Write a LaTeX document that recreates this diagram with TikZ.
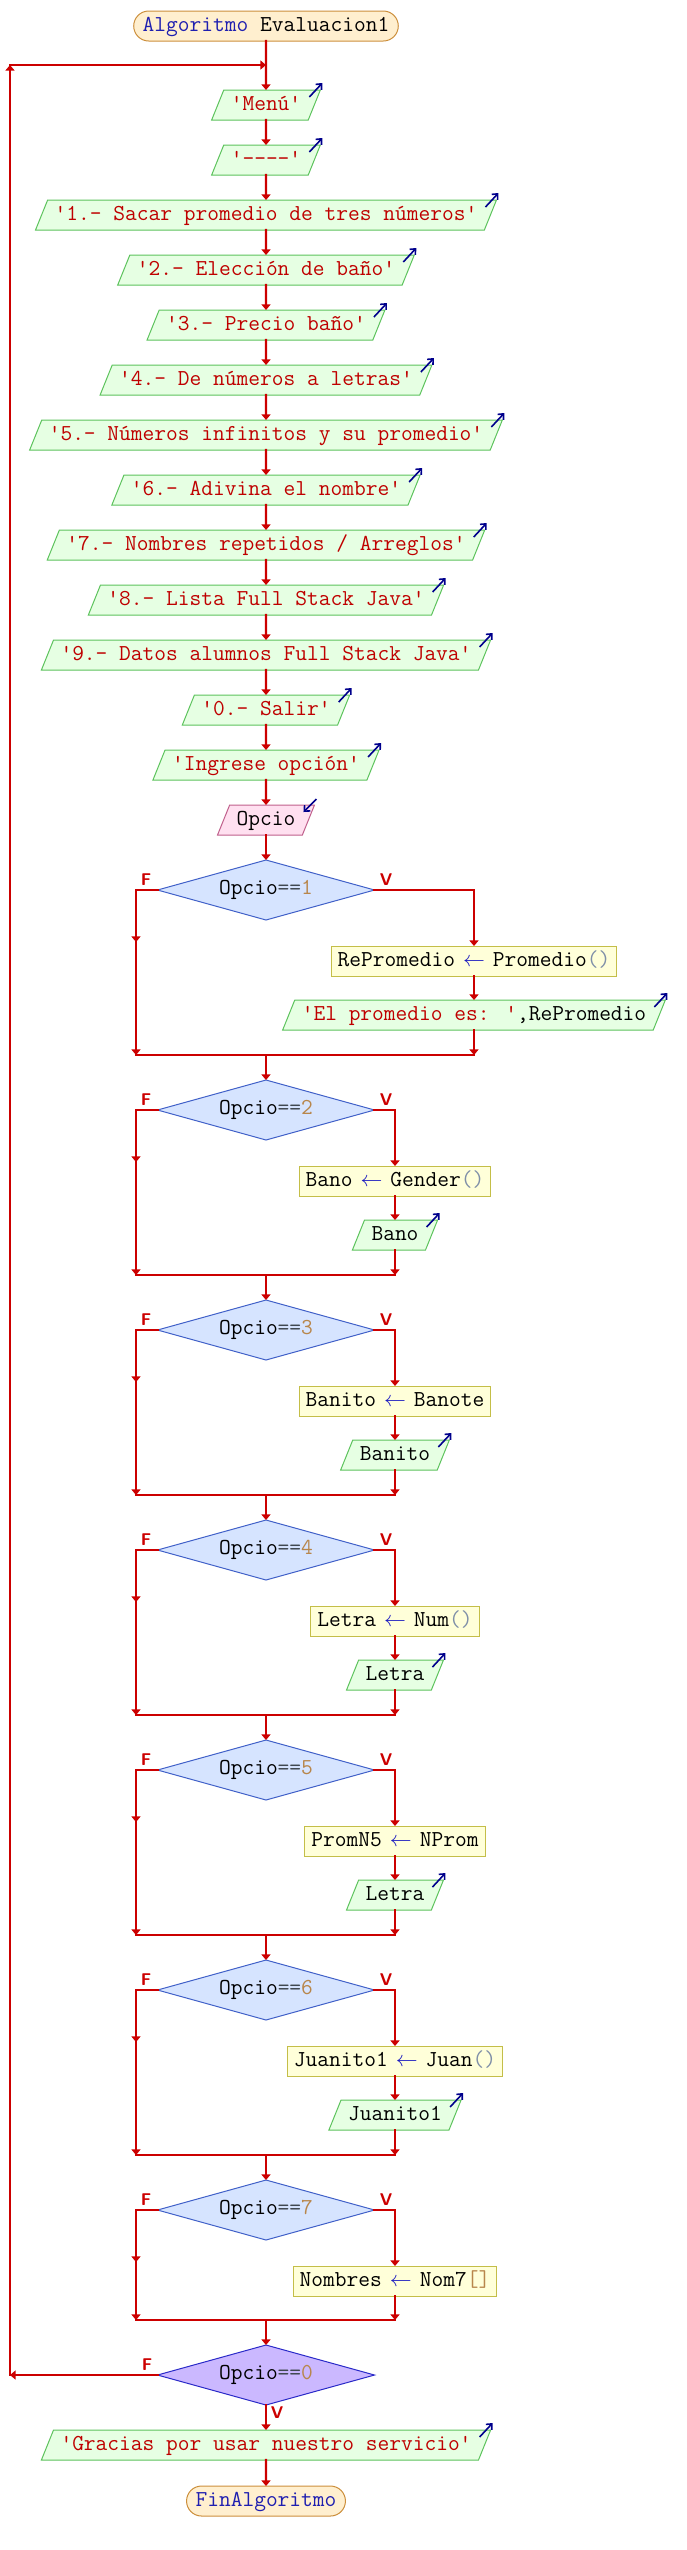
\documentclass[tikz,border=0pt]{standalone}
\usepackage{fontspec}
\usetikzlibrary{arrows.meta,shapes.geometric}

\definecolor{flujorojo}{HTML}{CC0000}
\definecolor{cadrojo}{HTML}{BF0000}
\definecolor{kwazul}{HTML}{1F1FB0}
\definecolor{asigazul}{HTML}{1A1AC0}
\definecolor{ioazul}{HTML}{00008C}
\definecolor{numcafe}{HTML}{B8864B}
\definecolor{gris}{HTML}{7F8FA8}
\definecolor{grisop}{HTML}{404850}
\definecolor{salfondo}{HTML}{E6FFE3}
\definecolor{salborde}{HTML}{5DC35D}
\definecolor{entfondo}{HTML}{FFE0F0}
\definecolor{entborde}{HTML}{C0608C}
\definecolor{procfondo}{HTML}{FFFFD9}
\definecolor{procborde}{HTML}{C4BE48}
\definecolor{decfondo}{HTML}{D6E4FF}
\definecolor{decborde}{HTML}{4060C8}
\definecolor{finfondo}{HTML}{CBB8FF}
\definecolor{finborde}{HTML}{2A2AC8}
\definecolor{termfondo}{HTML}{FFEFCF}
\definecolor{termborde}{HTML}{CC8F3C}

\newcommand\codigo{\fontsize{11.4pt}{13pt}\selectfont\ttfamily}
\newcommand\cq{\textquotesingle}
\newcommand\cadena[1]{\textcolor{cadrojo}{\cq#1\cq}}
\newcommand\asig{\hspace{4pt}\textcolor{asigazul}{$\leftarrow$}\hspace{4pt}}
\newcommand\llamada{\textcolor{gris}{()}}
\newcommand\opc[1]{Opcio\textcolor{grisop}{==}\textcolor{numcafe}{#1}}

\begin{document}
\begin{tikzpicture}[x=0.5pt, y=-0.5pt, font=\codigo,
    linea/.style={draw=flujorojo, line width=1.1pt, line cap=rect},
    flujo/.style={linea, -{Triangle[width=4.5pt,length=2.8pt]}},
    ioflecha/.style={draw=ioazul, line width=0.8pt, -{Straight Barb[length=2.2pt,width=4pt]}},
    salida/.style={trapezium, trapezium left angle=68, trapezium right angle=112,
        fill=salfondo, draw=salborde, line width=0.5pt, text height=8pt, text depth=2.5pt,
        inner xsep=3.5pt, inner ysep=2.25pt, outer sep=0pt},
    entrada/.style={salida, fill=entfondo, draw=entborde},
    proceso/.style={rectangle, fill=procfondo, draw=procborde, line width=0.5pt,
        text height=8pt, text depth=2.5pt, inner xsep=3.25pt, inner ysep=2.25pt, outer sep=0pt},
    decision/.style={diamond, aspect=3.6, minimum width=108.5pt, minimum height=30pt,
        inner sep=0pt, outer sep=0pt, fill=decfondo, draw=decborde, line width=0.5pt},
    terminal/.style={rectangle, rounded corners=7.5pt, fill=termfondo, draw=termborde,
        line width=0.5pt, text height=8pt, text depth=2.5pt, inner xsep=4.5pt, inner ysep=2.25pt, outer sep=0pt},
    rotulo/.style={font=\fontsize{8.5pt}{9pt}\selectfont\sffamily\bfseries, text=flujorojo, inner sep=0pt}]
    \useasboundingbox (0,0) rectangle (686,2550);
    % inicio
    \node[terminal] (ini) at (266,26) {\textcolor{kwazul}{Algoritmo} Evaluacion1};
    % menu
    \foreach \n/\y/\t [remember=\n as \prev (initially ini)] in {
        menu/105/{\cadena{Menú}},
        sep/160/{\cadena{-{}-{}-{}-}},
        o1/215/{\cadena{1.- Sacar promedio de tres números}},
        o2/270/{\cadena{2.- Elección de baño}},
        o3/325/{\cadena{3.- Precio baño}},
        o4/380/{\cadena{4.- De números a letras}},
        o5/435/{\cadena{5.- Números infinitos y su promedio}},
        o6/490/{\cadena{6.- Adivina el nombre}},
        o7/545/{\cadena{7.- Nombres repetidos / Arreglos}},
        o8/600/{\cadena{8.- Lista Full Stack Java}},
        o9/655/{\cadena{9.- Datos alumnos Full Stack Java}},
        o0/710/{\cadena{0.- Salir}},
        ing/765/{\cadena{Ingrese opción}}} {
        \node[salida] (\n) at (266,\y) {\t};
        \draw[flujo] (\prev) -- (\n);
        \draw[ioflecha] (\n.top right corner) ++(-11,7) -- ++(13,-14);
    }
    \node[entrada] (opcio) at (266,820) {Opcio};
    \draw[flujo] (ing) -- (opcio);
    \draw[ioflecha] (opcio.top right corner) ++(2,-6) -- ++(-13,13);
    % opciones 1 a 6
    \foreach \k/\y/\xr/\asg/\out in {
        1/890/474/{RePromedio\asig Promedio\llamada}/{\cadena{El promedio es: },RePromedio},
        2/1110/395/{Bano\asig Gender\llamada}/{Bano},
        3/1330/395/{Banito\asig Banote}/{Banito},
        4/1550/395/{Letra\asig Num\llamada}/{Letra},
        5/1770/395/{PromN5\asig NProm}/{Letra},
        6/1990/395/{Juanito1\asig Juan\llamada}/{Juanito1}} {
        \node[decision] (d\k) at (266,\y) {\opc{\k}};
        \node[rotulo] (f\k) at (146,\y-10) {F};
        \node[rotulo] (v\k) at (386,\y-10) {V};
        \node[proceso] (p\k) at (\xr,\y+71) {\asg};
        \node[salida] (s\k) at (\xr,\y+125) {\out};
        \draw[ioflecha] (s\k.top right corner) ++(-11,7) -- ++(13,-14);
        \coordinate (fl\k) at (136,\y);
        \coordinate (fr\k) at (\xr,\y);
        \coordinate (jl\k) at (136,\y+165);
        \coordinate (jr\k) at (\xr,\y+165);
        \coordinate (j\k) at (266,\y+165);
        \draw[linea] (d\k.west) -- (fl\k);
        \draw[flujo] (fl\k) -- ++(0,52);
        \draw[flujo] (fl\k) -- (jl\k);
        \draw[linea] (d\k.east) -- (fr\k);
        \draw[flujo] (fr\k) -- (p\k);
        \draw[flujo] (p\k) -- (s\k);
        \draw[flujo] (s\k) -- (jr\k);
        \draw[linea] (jl\k) -- (jr\k);
    }
    % opcion 7
    \node[decision] (d7) at (266,2210) {\opc{7}};
    \node[rotulo] (f7) at (146,2200) {F};
    \node[rotulo] (v7) at (386,2200) {V};
    \node[proceso] (p7) at (395,2281) {Nombres\asig Nom7\textcolor{numcafe}{[]}};
    \coordinate (fl7) at (136,2210);
    \coordinate (fr7) at (395,2210);
    \coordinate (jl7) at (136,2320);
    \coordinate (jr7) at (395,2320);
    \coordinate (j7) at (266,2320);
    \draw[linea] (d7.west) -- (fl7);
    \draw[flujo] (fl7) -- ++(0,52);
    \draw[flujo] (fl7) -- (jl7);
    \draw[linea] (d7.east) -- (fr7);
    \draw[flujo] (fr7) -- (p7);
    \draw[flujo] (p7) -- (jr7);
    \draw[linea] (jl7) -- (jr7);
    \draw[flujo] (opcio) -- (d1);
    \foreach \k [evaluate=\k as \nk using int(\k+1)] in {1,...,6} {
        \draw[flujo] (j\k) -- (d\nk);
    }
    % salir
    \node[decision, fill=finfondo, draw=finborde] (d0) at (266,2375) {\opc{0}};
    \draw[flujo] (j7) -- (d0);
    \node[rotulo] (f0) at (147,2365) {F};
    \node[rotulo] (v0) at (277,2413) {V};
    % bucle
    \coordinate (lazoA) at (10,2375);
    \coordinate (lazoB) at (10,65);
    \coordinate (lazoC) at (266,65);
    \draw[flujo] (d0.west) -- (lazoA);
    \draw[flujo] (lazoA) -- (lazoB);
    \draw[flujo] (lazoB) -- (lazoC);
    % fin
    \node[salida] (gracias) at (266,2445) {\cadena{Gracias por usar nuestro servicio}};
    \draw[ioflecha] (gracias.top right corner) ++(-11,7) -- ++(13,-14);
    \node[terminal] (fin) at (266,2501) {\textcolor{kwazul}{FinAlgoritmo}};
    \draw[flujo] (d0) -- (gracias);
    \draw[flujo] (gracias) -- (fin);
\end{tikzpicture}
\end{document}
